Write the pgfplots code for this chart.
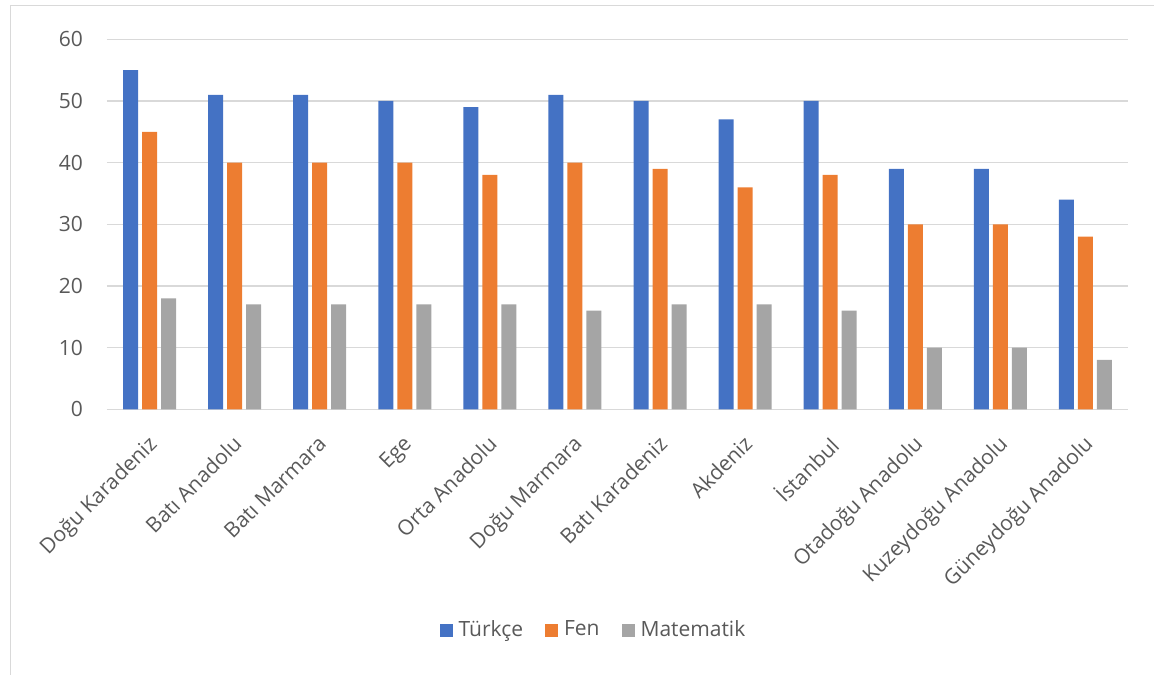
\documentclass[border=0pt]{standalone}
\usepackage{fontspec}
\setmainfont{Open Sans}
\usepackage{pgfplots}
\usepackage{pgfplotstable}
\pgfplotsset{compat=1.18}

\definecolor{tblue}{HTML}{4472C4}
\definecolor{torange}{HTML}{ED7D31}
\definecolor{tgray}{HTML}{A5A5A5}
\definecolor{textgray}{HTML}{595959}
\definecolor{gridgray}{HTML}{D9D9D9}

% Regional scores: Türkçe, Fen, Matematik
\pgfplotstableread{
i T F M
0 55 45 18
1 51 40 17
2 51 40 17
3 50 40 17
4 49 38 17
5 51 40 16
6 50 39 17
7 47 36 17
8 50 38 16
9 39 30 10
10 39 30 10
11 34 28 8
}\scores

\newcommand{\lblfont}{\fontsize{21bp}{25bp}\selectfont}

\begin{document}
\lblfont
\begin{tikzpicture}
\path[use as bounding box] (0bp,0bp) rectangle (1154bp,675bp);
\draw[gridgray, line width=1.2bp] (10.5bp,0bp) -- (10.5bp,669.5bp) -- (1154bp,669.5bp);
\begin{axis}[
  at={(107bp,265.7bp)}, anchor=south west,
  scale only axis, width=1021bp, height=370bp,
  xmin=-0.5, xmax=11.5, ymin=0, ymax=60,
  ytick={0,10,...,60},
  xtick={0,...,11},
  xticklabels={Doğu Karadeniz, Batı Anadolu, Batı Marmara, Ege, Orta Anadolu, Doğu Marmara, Batı Karadeniz, Akdeniz, İstanbul, Otadoğu Anadolu, Kuzeydoğu Anadolu, Güneydoğu Anadolu},
  /pgf/number format/assume math mode=true,
  axis line style={draw=none},
  ymajorgrids, major grid style={draw=gridgray, line width=1.5bp},
  major tick length=0pt,
  tick label style={text=textgray, font=\lblfont},
  yticklabel style={anchor=east, inner sep=0pt},
  yticklabel shift=24bp,
  xticklabel style={anchor=north east, inner sep=0pt, rotate=45, xshift=-4bp},
  xticklabel shift=22bp,
  ybar=4bp, bar width=15bp,
  legend entries={Türkçe, Fen, Matematik},
  legend image code/.code={\fill[#1] (0bp,-6.5bp) rectangle (13bp,6.5bp);},
  legend style={at={(0.4755,-0.5965)}, anchor=center, draw=none, fill=none,
    legend columns=-1, text=textgray, font=\lblfont,
    nodes={inner sep=0pt},
    /tikz/every odd column/.append style={column sep=6bp},
    /tikz/every even column/.append style={column sep=22bp}},
]
\addplot[fill=tblue, draw=none] table[x=i, y=T] {\scores};
\addplot[fill=torange, draw=none] table[x=i, y=F] {\scores};
\addplot[fill=tgray, draw=none] table[x=i, y=M] {\scores};
\end{axis}
\end{tikzpicture}
\end{document}
